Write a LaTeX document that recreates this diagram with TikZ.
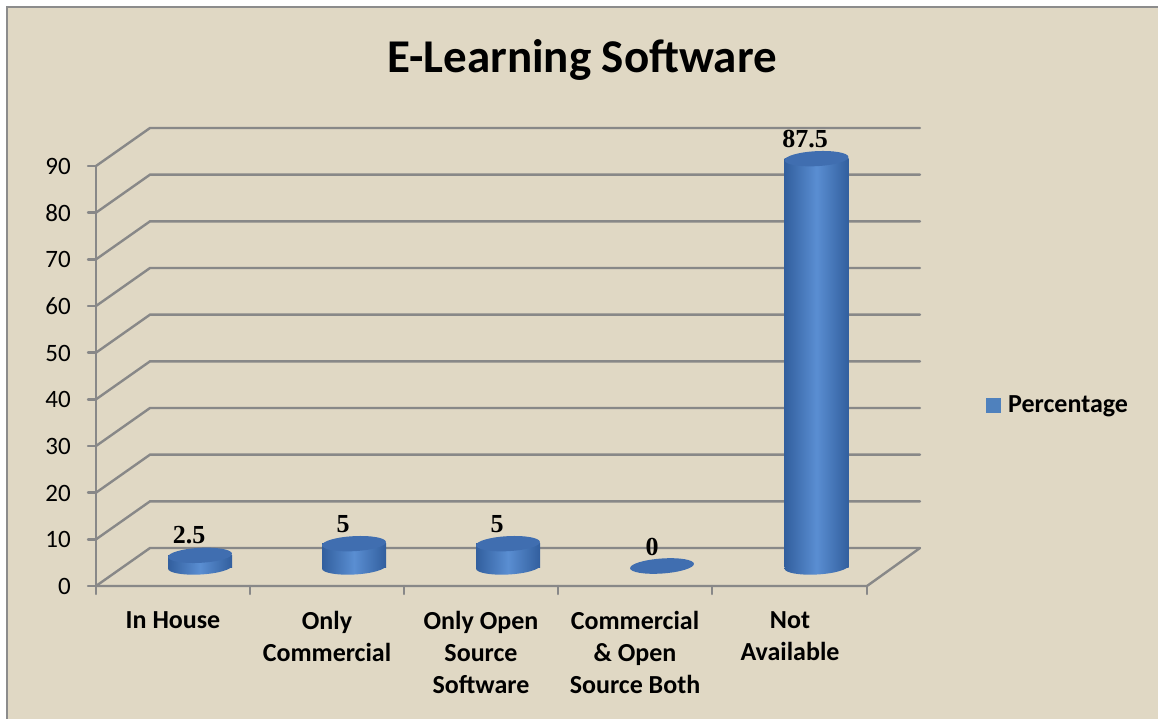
\documentclass[tikz,border=0pt]{standalone}
\usepackage{fontspec}
\setmainfont{Carlito}
\newfontfamily\numserif{Liberation Serif}
\definecolor{bgcol}{RGB}{224,216,196}
\definecolor{gridcol}{RGB}{136,136,136}
\definecolor{framecol}{RGB}{140,140,140}
\definecolor{barDark}{RGB}{50,95,158}
\definecolor{barLight}{RGB}{90,142,210}
\definecolor{barTop}{RGB}{64,110,176}
\definecolor{legcol}{RGB}{79,129,189}
\begin{document}
\begin{tikzpicture}[x=1pt,y=-1pt,
  gridline/.style={draw=gridcol,line width=2.4pt,line cap=round},
  ticklab/.style={anchor=base east,inner sep=0pt,font=\fontsize{25}{30}\selectfont},
  catlab/.style={anchor=north,inner sep=0pt,align=center,font=\bfseries\fontsize{26}{32}\selectfont},
  vallab/.style={anchor=base,inner sep=0pt,font=\numserif\bfseries\fontsize{26}{30}\selectfont},
  bodyshade/.style={left color=barDark,right color=barDark,middle color=barLight}]
\useasboundingbox (0,0) rectangle (1158,719);
% background and frame
\fill[white] (0,0) rectangle (1158,719);
\fill[bgcol] (7,7) rectangle (1158,719);
\draw[framecol,line width=2pt] (7,719) -- (7,7) -- (1158,7);
% title
\node[anchor=base,inner sep=0pt,font=\bfseries\fontsize{47}{56}\selectfont] (title) at (582,73) {E-Learning Software};
% back wall gridlines and diagonals
\foreach \v in {0,10,...,90}{
  \coordinate (f\v) at (96,{586-4.6667*\v});
  \coordinate (b\v) at (150,{548-4.6667*\v});
  \coordinate (e\v) at (920,{548-4.6667*\v});
  \draw[gridline] (f\v) -- (b\v) -- (e\v);
  \draw[gridline] (f\v) -- ++(-8,0);
  \node[ticklab] (t\v) at (71,{586-4.6667*\v+8.5}) {\v};
}
% floor
\coordinate (fr) at (867,586);
\draw[gridline] (f0) -- (fr) -- (e0);
\draw[gridline] (96,166) -- (96,594);
\foreach \x in {250,404,558,712,867}{
  \draw[gridline] (\x,586) -- (\x,594);
}
% bars
\foreach \cx/\val/\nm in {200/2.5/a,354/5/b,508/5/c,816.5/87.5/e}{
  \pgfmathsetmacro{\ty}{567-4.6667*\val}
  \begin{scope}[shift={(\cx,567)},rotate=3]
    \shade[bodyshade] (0,0) ellipse [x radius=32pt,y radius=7.5pt];
  \end{scope}
  \shade[bodyshade] (\cx-32,\ty) rectangle (\cx+32,567);
  \begin{scope}[shift={(\cx,\ty)},rotate=3]
    \fill[barTop] (0,0) ellipse [x radius=32pt,y radius=7.5pt];
  \end{scope}
}
\begin{scope}[shift={(662,566)},rotate=4]
  \fill[barTop] (0,0) ellipse [x radius=32pt,y radius=7.5pt];
\end{scope}
% value labels
\node[vallab] (v1) at (189,543) {2.5};
\node[vallab] (v2) at (343,532) {5};
\node[vallab] (v3) at (497,532) {5};
\node[vallab] (v4) at (652,555) {0};
\node[vallab] (v5) at (805,148) {87.5};
% category labels
\node[catlab] (c1) at (173,611) {In House};
\node[catlab] (c2) at (327,611) {Only\\Commercial};
\node[catlab] (c3) at (481,611) {Only Open\\Source\\Software};
\node[catlab] (c4) at (635,611) {Commercial\\\& Open\\Source Both};
\node[catlab] (c5) at (790,611) {Not\\Available};
% legend
\fill[legcol] (986,398) rectangle (1001,413);
\node[anchor=base west,inner sep=0pt,font=\bfseries\fontsize{26}{30}\selectfont] (leg) at (1008,412) {Percentage};
\end{tikzpicture}
\end{document}
